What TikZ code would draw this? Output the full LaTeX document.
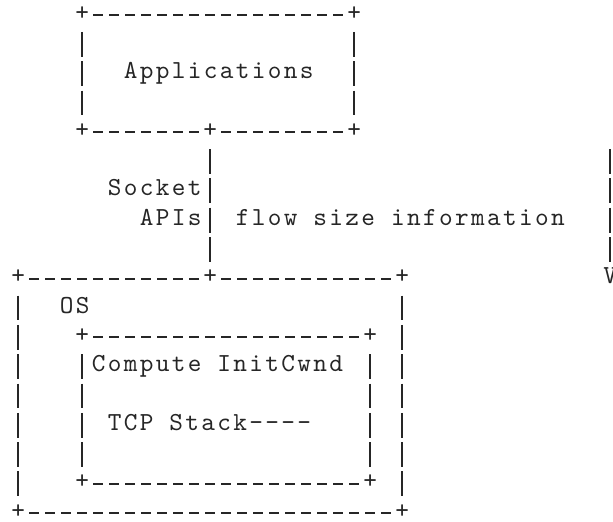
\documentclass[tikz,border=0pt]{standalone}
\usepackage{fontspec}
\newfontfamily\asciifont{lmmono10-regular.otf}[LetterSpace=9]
\definecolor{ink}{rgb}{0.15,0.15,0.15}

\begin{document}
\begin{tikzpicture}[x=8pt,y=-14.65pt,line cap=butt,
  chr/.style={font=\fontsize{13pt}{14.65pt}\asciifont,text=ink,inner sep=0pt,text height=.5em,text depth=0pt},
  txt/.style={chr,anchor=west,xshift=.6pt},
  hbar/.style={draw=ink,line width=.9pt,dash pattern=on 5pt off 3pt,shorten <=5.5pt,shorten >=5.5pt},
  vbar/.style={draw=ink,line width=.85pt,dash pattern=on 12.4pt off 2.25pt,shorten <=8.45pt,shorten >=8.45pt}]

\useasboundingbox (-9.15pt,7.5pt) rectangle (297.35pt,-253pt);

\foreach \n/\c/\r in {appnw/4/0,appne/21/0,appsw/4/4,apps/12/4,appse/21/4,
  osnw/0/9,osn/12/9,osne/24/9,ossw/0/17,osse/24/17,
  cwnw/4/11,cwne/22/11,cwsw/4/16,cwse/22/16}
  \node[chr] (\n) at (\c,\r) {+};

\node[txt] (app) at (6.5,2) {Applications};
\node[txt] (socket) at (5.5,6) {Socket};
\node[txt] (apis) at (7.5,7) {APIs};
\node[txt] (flowsize) at (13.5,7) {flow size information};
\node[txt] (os) at (2.5,10) {OS};
\node[txt] (initcwnd) at (4.5,12) {Compute InitCwnd};
\node[txt] (tcpstack) at (5.5,14) {TCP Stack----};
\node[chr] (tip) at (37,9) {V};
\coordinate (flowtop) at (37,4);

\foreach \a/\b in {appnw/appne,appsw/apps,apps/appse,osnw/osn,osn/osne,ossw/osse,cwnw/cwne,cwsw/cwse}
  \draw[hbar] (\a.center) -- (\b.center);
\foreach \a/\b in {appnw/appsw,appne/appse,apps/osn,flowtop/tip,osnw/ossw,osne/osse,cwnw/cwsw,cwne/cwse}
  \draw[vbar] (\a.center) -- (\b.center);

\end{tikzpicture}
\end{document}
